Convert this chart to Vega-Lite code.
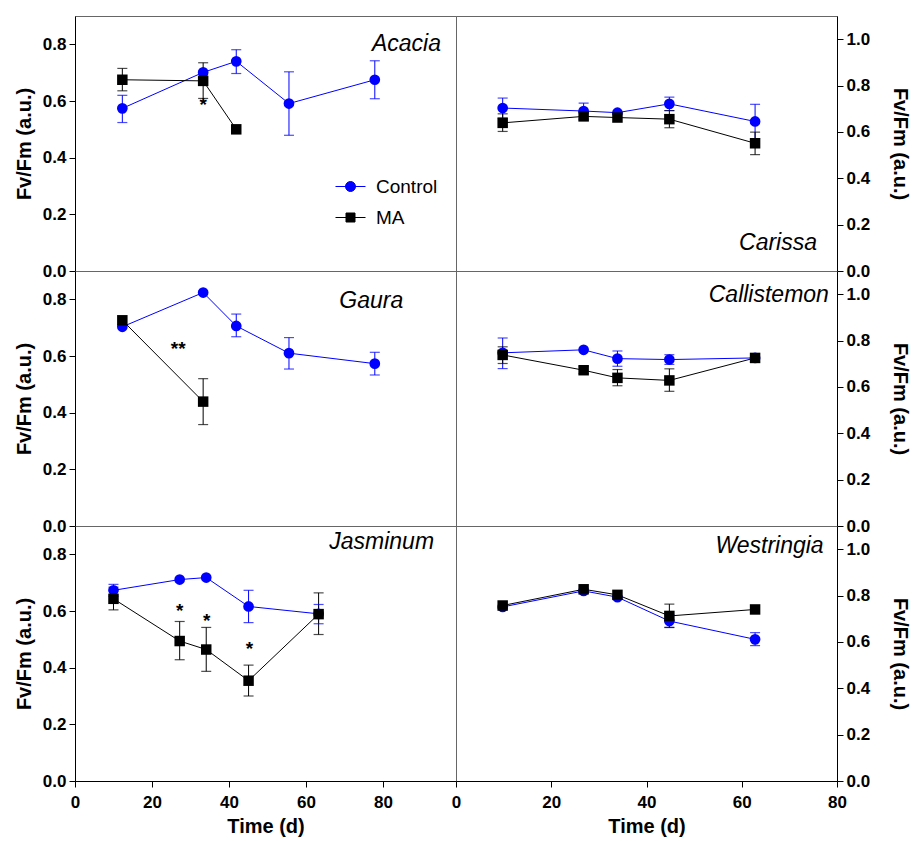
{
  "$schema": "https://vega.github.io/schema/vega-lite/v6.json",
  "padding": {"left": 13, "top": 15, "right": 2, "bottom": 2},
  "background": "white",
  "datasets": {
    "d": [
      {"sp": "Acacia", "trt": "Control", "t": 12.3, "v": 0.574, "lo": 0.524, "hi": 0.62},
      {"sp": "Acacia", "trt": "Control", "t": 33.3, "v": 0.701, "lo": null, "hi": null},
      {"sp": "Acacia", "trt": "Control", "t": 41.9, "v": 0.74, "lo": 0.697, "hi": 0.781},
      {"sp": "Acacia", "trt": "Control", "t": 55.6, "v": 0.591, "lo": 0.479, "hi": 0.703},
      {"sp": "Acacia", "trt": "Control", "t": 77.9, "v": 0.675, "lo": 0.608, "hi": 0.742},
      {"sp": "Acacia", "trt": "MA", "t": 12.3, "v": 0.675, "lo": 0.636, "hi": 0.715},
      {"sp": "Acacia", "trt": "MA", "t": 33.3, "v": 0.671, "lo": 0.609, "hi": 0.735},
      {"sp": "Acacia", "trt": "MA", "t": 41.9, "v": 0.5, "lo": null, "hi": null},
      {"sp": "Gaura", "trt": "Control", "t": 12.3, "v": 0.703, "lo": null, "hi": null},
      {"sp": "Gaura", "trt": "Control", "t": 33.3, "v": 0.824, "lo": null, "hi": null},
      {"sp": "Gaura", "trt": "Control", "t": 41.9, "v": 0.706, "lo": 0.668, "hi": 0.748},
      {"sp": "Gaura", "trt": "Control", "t": 55.6, "v": 0.61, "lo": 0.554, "hi": 0.665},
      {"sp": "Gaura", "trt": "Control", "t": 77.9, "v": 0.573, "lo": 0.533, "hi": 0.613},
      {"sp": "Gaura", "trt": "MA", "t": 12.3, "v": 0.726, "lo": null, "hi": null},
      {"sp": "Gaura", "trt": "MA", "t": 33.3, "v": 0.439, "lo": 0.358, "hi": 0.52},
      {"sp": "Jasminum", "trt": "Control", "t": 10, "v": 0.673, "lo": 0.652, "hi": 0.694},
      {"sp": "Jasminum", "trt": "Control", "t": 27.2, "v": 0.711, "lo": null, "hi": null},
      {"sp": "Jasminum", "trt": "Control", "t": 34.1, "v": 0.718, "lo": null, "hi": null},
      {"sp": "Jasminum", "trt": "Control", "t": 45.1, "v": 0.616, "lo": 0.559, "hi": 0.673},
      {"sp": "Jasminum", "trt": "Control", "t": 63.3, "v": 0.59, "lo": 0.555, "hi": 0.623},
      {"sp": "Jasminum", "trt": "MA", "t": 10, "v": 0.643, "lo": 0.604, "hi": 0.684},
      {"sp": "Jasminum", "trt": "MA", "t": 27.2, "v": 0.494, "lo": 0.428, "hi": 0.563},
      {"sp": "Jasminum", "trt": "MA", "t": 34.1, "v": 0.464, "lo": 0.387, "hi": 0.542},
      {"sp": "Jasminum", "trt": "MA", "t": 45.1, "v": 0.354, "lo": 0.3, "hi": 0.409},
      {"sp": "Jasminum", "trt": "MA", "t": 63.3, "v": 0.589, "lo": 0.517, "hi": 0.664},
      {"sp": "Carissa", "trt": "Control", "t": 9.8, "v": 0.703, "lo": 0.66, "hi": 0.746},
      {"sp": "Carissa", "trt": "Control", "t": 26.8, "v": 0.69, "lo": 0.656, "hi": 0.724},
      {"sp": "Carissa", "trt": "Control", "t": 33.9, "v": 0.683, "lo": null, "hi": null},
      {"sp": "Carissa", "trt": "Control", "t": 44.8, "v": 0.721, "lo": 0.692, "hi": 0.75},
      {"sp": "Carissa", "trt": "Control", "t": 62.8, "v": 0.645, "lo": 0.571, "hi": 0.719},
      {"sp": "Carissa", "trt": "MA", "t": 9.8, "v": 0.639, "lo": 0.602, "hi": 0.678},
      {"sp": "Carissa", "trt": "MA", "t": 26.8, "v": 0.667, "lo": 0.652, "hi": 0.682},
      {"sp": "Carissa", "trt": "MA", "t": 33.9, "v": 0.662, "lo": null, "hi": null},
      {"sp": "Carissa", "trt": "MA", "t": 44.8, "v": 0.655, "lo": 0.618, "hi": 0.692},
      {"sp": "Carissa", "trt": "MA", "t": 62.8, "v": 0.551, "lo": 0.502, "hi": 0.599},
      {"sp": "Callistemon", "trt": "Control", "t": 9.8, "v": 0.747, "lo": 0.679, "hi": 0.811},
      {"sp": "Callistemon", "trt": "Control", "t": 26.8, "v": 0.76, "lo": null, "hi": null},
      {"sp": "Callistemon", "trt": "Control", "t": 33.9, "v": 0.722, "lo": 0.689, "hi": 0.755},
      {"sp": "Callistemon", "trt": "Control", "t": 44.8, "v": 0.718, "lo": 0.697, "hi": 0.739},
      {"sp": "Callistemon", "trt": "Control", "t": 62.8, "v": 0.725, "lo": null, "hi": null},
      {"sp": "Callistemon", "trt": "MA", "t": 9.8, "v": 0.738, "lo": 0.701, "hi": 0.773},
      {"sp": "Callistemon", "trt": "MA", "t": 26.8, "v": 0.672, "lo": 0.657, "hi": 0.687},
      {"sp": "Callistemon", "trt": "MA", "t": 33.9, "v": 0.639, "lo": 0.605, "hi": 0.675},
      {"sp": "Callistemon", "trt": "MA", "t": 44.8, "v": 0.628, "lo": 0.581, "hi": 0.678},
      {"sp": "Callistemon", "trt": "MA", "t": 62.8, "v": 0.725, "lo": null, "hi": null},
      {"sp": "Westringia", "trt": "Control", "t": 9.8, "v": 0.751, "lo": null, "hi": null},
      {"sp": "Westringia", "trt": "Control", "t": 26.8, "v": 0.82, "lo": null, "hi": null},
      {"sp": "Westringia", "trt": "Control", "t": 33.9, "v": 0.793, "lo": null, "hi": null},
      {"sp": "Westringia", "trt": "Control", "t": 44.8, "v": 0.69, "lo": 0.663, "hi": 0.717},
      {"sp": "Westringia", "trt": "Control", "t": 62.8, "v": 0.611, "lo": 0.584, "hi": 0.64},
      {"sp": "Westringia", "trt": "MA", "t": 9.8, "v": 0.757, "lo": null, "hi": null},
      {"sp": "Westringia", "trt": "MA", "t": 26.8, "v": 0.827, "lo": null, "hi": null},
      {"sp": "Westringia", "trt": "MA", "t": 33.9, "v": 0.803, "lo": null, "hi": null},
      {"sp": "Westringia", "trt": "MA", "t": 44.8, "v": 0.712, "lo": 0.662, "hi": 0.763},
      {"sp": "Westringia", "trt": "MA", "t": 62.8, "v": 0.74, "lo": null, "hi": null}
    ],
    "ann": [
      {"sp": "Acacia", "t": 33.3, "v": 0.603, "txt": "*"},
      {"sp": "Gaura", "t": 26.8, "v": 0.644, "txt": "**"},
      {"sp": "Jasminum", "t": 27.2, "v": 0.617, "txt": "*"},
      {"sp": "Jasminum", "t": 34.2, "v": 0.584, "txt": "*"},
      {"sp": "Jasminum", "t": 45.3, "v": 0.482, "txt": "*"}
    ],
    "lab": [
      {"sp": "Acacia", "name": "Acacia", "t": 95.1, "v": 0.777},
      {"sp": "Gaura", "name": "Gaura", "t": 85.3, "v": 0.77},
      {"sp": "Jasminum", "name": "Jasminum", "t": 93.3, "v": 0.819},
      {"sp": "Carissa", "name": "Carissa", "t": 75.8, "v": 0.09},
      {"sp": "Callistemon", "name": "Callistemon", "t": 78.3, "v": 0.968},
      {"sp": "Westringia", "name": "Westringia", "t": 77.2, "v": 0.983}
    ]
  },
  "columns": 2,
  "spacing": 0,
  "bounds": "flush",
  "concat": [
    {
      "width": 381, "height": 255,
      "encoding": {
        "x": {"field": "t", "type": "quantitative", "scale": {"domain": [0, 99], "nice": false, "zero": false}, "axis": null},
        "color": {"field": "trt", "type": "nominal", "scale": {"domain": ["Control", "MA"], "range": ["#0000ff", "#000000"]},
          "legend": {"orient": "none", "legendX": 266, "legendY": 161, "title": null, "padding": 0, "labelFont": "Liberation Sans", "labelFontSize": 19, "labelColor": "#000", "labelOffset": 16, "rowPadding": 11, "symbolSize": 100,
            "encode": {"symbols": {"update": {"shape": {"signal": "datum.value === 'Control' ? 'M-3,0L3,0M1,0A1,1,0,1,1,-1,0A1,1,0,1,1,1,0Z' : 'M-3,0L3,0M-0.9,-0.9L0.9,-0.9L0.9,0.9L-0.9,0.9Z'"}, "fill": {"signal": "datum.value === 'Control' ? '#0000ff' : '#000000'"}, "stroke": {"signal": "datum.value === 'Control' ? '#0000ff' : '#000000'"}, "strokeWidth": {"value": 1}, "opacity": {"value": 1}}}}}}
      },
      "layer": [
        {"data": {"name": "d"}, "transform": [{"filter": "datum.sp === 'Acacia' && datum.lo != null"}], "mark": {"type": "rule", "strokeWidth": 1}, "encoding": {"y": {"field": "lo", "type": "quantitative", "scale": {"domain": [0, 0.9], "nice": false, "zero": false}, "axis": {"orient": "left", "values": [0, 0.2, 0.4, 0.6, 0.8], "format": ".1f", "title": "Fv/Fm (a.u.)", "titlePadding": 8}}, "y2": {"field": "hi"}}},
        {"data": {"name": "d"}, "transform": [{"filter": "datum.sp === 'Acacia' && datum.lo != null"}], "mark": {"type": "tick", "orient": "horizontal", "size": 10, "thickness": 1.2}, "encoding": {"y": {"field": "lo", "type": "quantitative"}}},
        {"data": {"name": "d"}, "transform": [{"filter": "datum.sp === 'Acacia' && datum.lo != null"}], "mark": {"type": "tick", "orient": "horizontal", "size": 10, "thickness": 1.2}, "encoding": {"y": {"field": "hi", "type": "quantitative"}}},
        {"data": {"name": "d"}, "transform": [{"filter": "datum.sp === 'Acacia'"}], "mark": {"type": "line", "strokeWidth": 1}, "encoding": {"y": {"field": "v", "type": "quantitative"}}},
        {"data": {"name": "d"}, "transform": [{"filter": "datum.sp === 'Acacia' && datum.trt === 'Control'"}], "mark": {"type": "point", "shape": "circle", "filled": true, "size": 115, "opacity": 1}, "encoding": {"y": {"field": "v", "type": "quantitative"}}},
        {"data": {"name": "d"}, "transform": [{"filter": "datum.sp === 'Acacia' && datum.trt === 'MA'"}], "mark": {"type": "point", "shape": "square", "filled": true, "size": 110, "opacity": 1}, "encoding": {"y": {"field": "v", "type": "quantitative"}}},
        {"data": {"name": "ann"}, "transform": [{"filter": "datum.sp === 'Acacia'"}], "mark": {"type": "text", "fontSize": 19, "fontWeight": "bold", "font": "Liberation Sans", "baseline": "middle", "dy": 5}, "encoding": {"y": {"field": "v", "type": "quantitative"}, "text": {"field": "txt"}, "color": {"value": "#000"}}},
        {"data": {"name": "lab"}, "transform": [{"filter": "datum.sp === 'Acacia'"}], "mark": {"type": "text", "fontSize": 23, "fontStyle": "italic", "font": "Liberation Sans", "align": "right", "baseline": "alphabetic"}, "encoding": {"y": {"field": "v", "type": "quantitative"}, "text": {"field": "name"}, "color": {"value": "#000"}}}
      ]
    },
    {
      "width": 381, "height": 255,
      "encoding": {
        "x": {"field": "t", "type": "quantitative", "scale": {"domain": [0, 80], "nice": false, "zero": false}, "axis": null},
        "color": {"field": "trt", "type": "nominal", "scale": {"domain": ["Control", "MA"], "range": ["#0000ff", "#000000"]}}
      },
      "layer": [
        {"data": {"name": "d"}, "transform": [{"filter": "datum.sp === 'Carissa' && datum.lo != null"}], "mark": {"type": "rule", "strokeWidth": 1}, "encoding": {"y": {"field": "lo", "type": "quantitative", "scale": {"domain": [0, 1.1], "nice": false, "zero": false}, "axis": {"orient": "right", "values": [0, 0.2, 0.4, 0.6, 0.8, 1.0], "format": ".1f", "title": "Fv/Fm (a.u.)", "titlePadding": 20}}, "y2": {"field": "hi"}}},
        {"data": {"name": "d"}, "transform": [{"filter": "datum.sp === 'Carissa' && datum.lo != null"}], "mark": {"type": "tick", "orient": "horizontal", "size": 10, "thickness": 1.2}, "encoding": {"y": {"field": "lo", "type": "quantitative"}}},
        {"data": {"name": "d"}, "transform": [{"filter": "datum.sp === 'Carissa' && datum.lo != null"}], "mark": {"type": "tick", "orient": "horizontal", "size": 10, "thickness": 1.2}, "encoding": {"y": {"field": "hi", "type": "quantitative"}}},
        {"data": {"name": "d"}, "transform": [{"filter": "datum.sp === 'Carissa'"}], "mark": {"type": "line", "strokeWidth": 1}, "encoding": {"y": {"field": "v", "type": "quantitative"}}},
        {"data": {"name": "d"}, "transform": [{"filter": "datum.sp === 'Carissa' && datum.trt === 'Control'"}], "mark": {"type": "point", "shape": "circle", "filled": true, "size": 115, "opacity": 1}, "encoding": {"y": {"field": "v", "type": "quantitative"}}},
        {"data": {"name": "d"}, "transform": [{"filter": "datum.sp === 'Carissa' && datum.trt === 'MA'"}], "mark": {"type": "point", "shape": "square", "filled": true, "size": 110, "opacity": 1}, "encoding": {"y": {"field": "v", "type": "quantitative"}}},
        {"data": {"name": "lab"}, "transform": [{"filter": "datum.sp === 'Carissa'"}], "mark": {"type": "text", "fontSize": 23, "fontStyle": "italic", "font": "Liberation Sans", "align": "right", "baseline": "alphabetic"}, "encoding": {"y": {"field": "v", "type": "quantitative"}, "text": {"field": "name"}, "color": {"value": "#000"}}}
      ]
    },
    {
      "width": 381, "height": 255,
      "encoding": {
        "x": {"field": "t", "type": "quantitative", "scale": {"domain": [0, 99], "nice": false, "zero": false}, "axis": null},
        "color": {"field": "trt", "type": "nominal", "scale": {"domain": ["Control", "MA"], "range": ["#0000ff", "#000000"]}}
      },
      "layer": [
        {"data": {"name": "d"}, "transform": [{"filter": "datum.sp === 'Gaura' && datum.lo != null"}], "mark": {"type": "rule", "strokeWidth": 1}, "encoding": {"y": {"field": "lo", "type": "quantitative", "scale": {"domain": [0, 0.9], "nice": false, "zero": false}, "axis": {"orient": "left", "values": [0, 0.2, 0.4, 0.6, 0.8], "format": ".1f", "title": "Fv/Fm (a.u.)", "titlePadding": 8}}, "y2": {"field": "hi"}}},
        {"data": {"name": "d"}, "transform": [{"filter": "datum.sp === 'Gaura' && datum.lo != null"}], "mark": {"type": "tick", "orient": "horizontal", "size": 10, "thickness": 1.2}, "encoding": {"y": {"field": "lo", "type": "quantitative"}}},
        {"data": {"name": "d"}, "transform": [{"filter": "datum.sp === 'Gaura' && datum.lo != null"}], "mark": {"type": "tick", "orient": "horizontal", "size": 10, "thickness": 1.2}, "encoding": {"y": {"field": "hi", "type": "quantitative"}}},
        {"data": {"name": "d"}, "transform": [{"filter": "datum.sp === 'Gaura'"}], "mark": {"type": "line", "strokeWidth": 1}, "encoding": {"y": {"field": "v", "type": "quantitative"}}},
        {"data": {"name": "d"}, "transform": [{"filter": "datum.sp === 'Gaura' && datum.trt === 'Control'"}], "mark": {"type": "point", "shape": "circle", "filled": true, "size": 115, "opacity": 1}, "encoding": {"y": {"field": "v", "type": "quantitative"}}},
        {"data": {"name": "d"}, "transform": [{"filter": "datum.sp === 'Gaura' && datum.trt === 'MA'"}], "mark": {"type": "point", "shape": "square", "filled": true, "size": 110, "opacity": 1}, "encoding": {"y": {"field": "v", "type": "quantitative"}}},
        {"data": {"name": "ann"}, "transform": [{"filter": "datum.sp === 'Gaura'"}], "mark": {"type": "text", "fontSize": 19, "fontWeight": "bold", "font": "Liberation Sans", "baseline": "middle", "dy": 5}, "encoding": {"y": {"field": "v", "type": "quantitative"}, "text": {"field": "txt"}, "color": {"value": "#000"}}},
        {"data": {"name": "lab"}, "transform": [{"filter": "datum.sp === 'Gaura'"}], "mark": {"type": "text", "fontSize": 23, "fontStyle": "italic", "font": "Liberation Sans", "align": "right", "baseline": "alphabetic"}, "encoding": {"y": {"field": "v", "type": "quantitative"}, "text": {"field": "name"}, "color": {"value": "#000"}}}
      ]
    },
    {
      "width": 381, "height": 255,
      "encoding": {
        "x": {"field": "t", "type": "quantitative", "scale": {"domain": [0, 80], "nice": false, "zero": false}, "axis": null},
        "color": {"field": "trt", "type": "nominal", "scale": {"domain": ["Control", "MA"], "range": ["#0000ff", "#000000"]}}
      },
      "layer": [
        {"data": {"name": "d"}, "transform": [{"filter": "datum.sp === 'Callistemon' && datum.lo != null"}], "mark": {"type": "rule", "strokeWidth": 1}, "encoding": {"y": {"field": "lo", "type": "quantitative", "scale": {"domain": [0, 1.1], "nice": false, "zero": false}, "axis": {"orient": "right", "values": [0, 0.2, 0.4, 0.6, 0.8, 1.0], "format": ".1f", "title": "Fv/Fm (a.u.)", "titlePadding": 20}}, "y2": {"field": "hi"}}},
        {"data": {"name": "d"}, "transform": [{"filter": "datum.sp === 'Callistemon' && datum.lo != null"}], "mark": {"type": "tick", "orient": "horizontal", "size": 10, "thickness": 1.2}, "encoding": {"y": {"field": "lo", "type": "quantitative"}}},
        {"data": {"name": "d"}, "transform": [{"filter": "datum.sp === 'Callistemon' && datum.lo != null"}], "mark": {"type": "tick", "orient": "horizontal", "size": 10, "thickness": 1.2}, "encoding": {"y": {"field": "hi", "type": "quantitative"}}},
        {"data": {"name": "d"}, "transform": [{"filter": "datum.sp === 'Callistemon'"}], "mark": {"type": "line", "strokeWidth": 1}, "encoding": {"y": {"field": "v", "type": "quantitative"}}},
        {"data": {"name": "d"}, "transform": [{"filter": "datum.sp === 'Callistemon' && datum.trt === 'Control'"}], "mark": {"type": "point", "shape": "circle", "filled": true, "size": 115, "opacity": 1}, "encoding": {"y": {"field": "v", "type": "quantitative"}}},
        {"data": {"name": "d"}, "transform": [{"filter": "datum.sp === 'Callistemon' && datum.trt === 'MA'"}], "mark": {"type": "point", "shape": "square", "filled": true, "size": 110, "opacity": 1}, "encoding": {"y": {"field": "v", "type": "quantitative"}}},
        {"data": {"name": "lab"}, "transform": [{"filter": "datum.sp === 'Callistemon'"}], "mark": {"type": "text", "fontSize": 23, "fontStyle": "italic", "font": "Liberation Sans", "align": "right", "baseline": "alphabetic"}, "encoding": {"y": {"field": "v", "type": "quantitative"}, "text": {"field": "name"}, "color": {"value": "#000"}}}
      ]
    },
    {
      "width": 381, "height": 255,
      "encoding": {
        "x": {"field": "t", "type": "quantitative", "scale": {"domain": [0, 99], "nice": false, "zero": false}, "axis": {"values": [0, 20, 40, 60, 80], "format": "d", "title": "Time (d)", "labelPadding": 7, "titlePadding": 6}},
        "color": {"field": "trt", "type": "nominal", "scale": {"domain": ["Control", "MA"], "range": ["#0000ff", "#000000"]}}
      },
      "layer": [
        {"data": {"name": "d"}, "transform": [{"filter": "datum.sp === 'Jasminum' && datum.lo != null"}], "mark": {"type": "rule", "strokeWidth": 1}, "encoding": {"y": {"field": "lo", "type": "quantitative", "scale": {"domain": [0, 0.9], "nice": false, "zero": false}, "axis": {"orient": "left", "values": [0, 0.2, 0.4, 0.6, 0.8], "format": ".1f", "title": "Fv/Fm (a.u.)", "titlePadding": 8}}, "y2": {"field": "hi"}}},
        {"data": {"name": "d"}, "transform": [{"filter": "datum.sp === 'Jasminum' && datum.lo != null"}], "mark": {"type": "tick", "orient": "horizontal", "size": 10, "thickness": 1.2}, "encoding": {"y": {"field": "lo", "type": "quantitative"}}},
        {"data": {"name": "d"}, "transform": [{"filter": "datum.sp === 'Jasminum' && datum.lo != null"}], "mark": {"type": "tick", "orient": "horizontal", "size": 10, "thickness": 1.2}, "encoding": {"y": {"field": "hi", "type": "quantitative"}}},
        {"data": {"name": "d"}, "transform": [{"filter": "datum.sp === 'Jasminum'"}], "mark": {"type": "line", "strokeWidth": 1}, "encoding": {"y": {"field": "v", "type": "quantitative"}}},
        {"data": {"name": "d"}, "transform": [{"filter": "datum.sp === 'Jasminum' && datum.trt === 'Control'"}], "mark": {"type": "point", "shape": "circle", "filled": true, "size": 115, "opacity": 1}, "encoding": {"y": {"field": "v", "type": "quantitative"}}},
        {"data": {"name": "d"}, "transform": [{"filter": "datum.sp === 'Jasminum' && datum.trt === 'MA'"}], "mark": {"type": "point", "shape": "square", "filled": true, "size": 110, "opacity": 1}, "encoding": {"y": {"field": "v", "type": "quantitative"}}},
        {"data": {"name": "ann"}, "transform": [{"filter": "datum.sp === 'Jasminum'"}], "mark": {"type": "text", "fontSize": 19, "fontWeight": "bold", "font": "Liberation Sans", "baseline": "middle", "dy": 5}, "encoding": {"y": {"field": "v", "type": "quantitative"}, "text": {"field": "txt"}, "color": {"value": "#000"}}},
        {"data": {"name": "lab"}, "transform": [{"filter": "datum.sp === 'Jasminum'"}], "mark": {"type": "text", "fontSize": 23, "fontStyle": "italic", "font": "Liberation Sans", "align": "right", "baseline": "alphabetic"}, "encoding": {"y": {"field": "v", "type": "quantitative"}, "text": {"field": "name"}, "color": {"value": "#000"}}}
      ]
    },
    {
      "width": 381, "height": 255,
      "encoding": {
        "x": {"field": "t", "type": "quantitative", "scale": {"domain": [0, 80], "nice": false, "zero": false}, "axis": {"values": [0, 20, 40, 60, 80], "format": "d", "title": "Time (d)", "labelPadding": 7, "titlePadding": 6}},
        "color": {"field": "trt", "type": "nominal", "scale": {"domain": ["Control", "MA"], "range": ["#0000ff", "#000000"]}}
      },
      "layer": [
        {"data": {"name": "d"}, "transform": [{"filter": "datum.sp === 'Westringia' && datum.lo != null"}], "mark": {"type": "rule", "strokeWidth": 1}, "encoding": {"y": {"field": "lo", "type": "quantitative", "scale": {"domain": [0, 1.1], "nice": false, "zero": false}, "axis": {"orient": "right", "values": [0, 0.2, 0.4, 0.6, 0.8, 1.0], "format": ".1f", "title": "Fv/Fm (a.u.)", "titlePadding": 20}}, "y2": {"field": "hi"}}},
        {"data": {"name": "d"}, "transform": [{"filter": "datum.sp === 'Westringia' && datum.lo != null"}], "mark": {"type": "tick", "orient": "horizontal", "size": 10, "thickness": 1.2}, "encoding": {"y": {"field": "lo", "type": "quantitative"}}},
        {"data": {"name": "d"}, "transform": [{"filter": "datum.sp === 'Westringia' && datum.lo != null"}], "mark": {"type": "tick", "orient": "horizontal", "size": 10, "thickness": 1.2}, "encoding": {"y": {"field": "hi", "type": "quantitative"}}},
        {"data": {"name": "d"}, "transform": [{"filter": "datum.sp === 'Westringia'"}], "mark": {"type": "line", "strokeWidth": 1}, "encoding": {"y": {"field": "v", "type": "quantitative"}}},
        {"data": {"name": "d"}, "transform": [{"filter": "datum.sp === 'Westringia' && datum.trt === 'Control'"}], "mark": {"type": "point", "shape": "circle", "filled": true, "size": 115, "opacity": 1}, "encoding": {"y": {"field": "v", "type": "quantitative"}}},
        {"data": {"name": "d"}, "transform": [{"filter": "datum.sp === 'Westringia' && datum.trt === 'MA'"}], "mark": {"type": "point", "shape": "square", "filled": true, "size": 110, "opacity": 1}, "encoding": {"y": {"field": "v", "type": "quantitative"}}},
        {"data": {"name": "lab"}, "transform": [{"filter": "datum.sp === 'Westringia'"}], "mark": {"type": "text", "fontSize": 23, "fontStyle": "italic", "font": "Liberation Sans", "align": "right", "baseline": "alphabetic"}, "encoding": {"y": {"field": "v", "type": "quantitative"}, "text": {"field": "name"}, "color": {"value": "#000"}}}
      ]
    }
  ],
  "config": {
    "view": {"stroke": "#666", "strokeWidth": 1},
    "axis": {"grid": false, "labelFont": "Liberation Sans", "labelFontSize": 17, "labelFontWeight": "bold", "labelColor": "#000", "titleFont": "Liberation Sans", "titleFontSize": 20, "titleFontWeight": "bold", "titleColor": "#000", "domainColor": "#000", "tickColor": "#000", "tickSize": 6, "labelPadding": 3, "labelFlush": false, "labelOverlap": false}
  }
}
